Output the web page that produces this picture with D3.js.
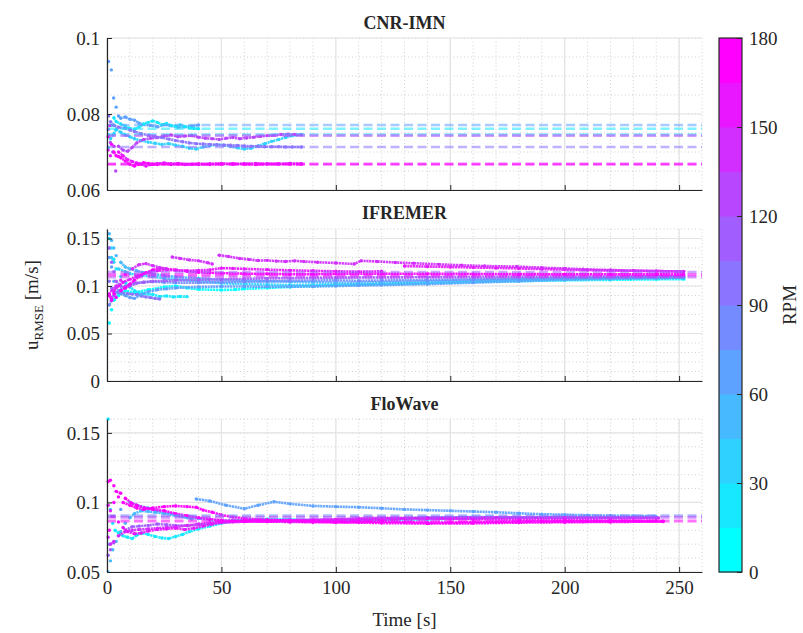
<!DOCTYPE html>
<html><head><meta charset="utf-8">
<script src="https://cdn.jsdelivr.net/npm/d3@7"></script>
<style>body{margin:0;background:#fff}svg{display:block}svg text{font-family:"Liberation Serif","DejaVu Serif",serif !important;fill:#262626}</style>
</head><body><svg id="c" width="803" height="633"></svg>
<script>
// ---------- DATA ----------
const panelTitles = ["CNR-IMN", "IFREMER", "FloWave"];
const xTicks = [0, 50, 100, 150, 200, 250];
const yTicksCNR = [0.06, 0.08, 0.1];
const yTicksIFR = [0, 0.05, 0.1, 0.15];
const yTicksFLO = [0.05, 0.1, 0.15];
const rpmTicks = [0, 30, 60, 90, 120, 150, 180];

// CNR-IMN series: rpm + [time s, uRMSE m/s]
const cnrSeries = [
 {rpm:60, pts:[[0.7,0.0938],[1.9,0.0916],[2.9,0.0842],[4,0.0818],[5,0.0795],[6,0.0789],[8,0.0792],[10,0.0786],[12,0.0784],[14,0.0776],[16,0.0772],[19,0.0770],[22,0.0766],[25,0.0772],[28,0.0769],[31,0.0765],[34,0.0766],[37,0.0768],[40,0.0771]]},
 {rpm:15, pts:[[0.8,0.0745],[2,0.0770],[3,0.0790],[4,0.0780],[6,0.0774],[8,0.0768],[10,0.0762],[12,0.0760],[14,0.0766],[16,0.0774],[18,0.0778],[20,0.0782],[22,0.0778],[24,0.0772],[26,0.0775],[28,0.0770],[30,0.0768],[32,0.0771],[34,0.0767],[36,0.0764],[38,0.0762],[40,0.0761]]},
 {rpm:30, pts:[[0.6,0.0712],[1.5,0.0735],[3,0.0748],[4,0.0760],[6,0.0752],[8,0.0745],[10,0.0740],[12,0.0735],[15,0.0730],[18,0.0726],[21,0.0723],[24,0.0720],[27,0.0722],[30,0.0718],[33,0.0715],[36,0.0710],[39,0.0708],[42,0.0713],[45,0.0717],[48,0.0719],[51,0.0718],[54,0.0715],[57,0.0711],[60,0.0708],[63,0.0710],[66,0.0716],[69,0.0722],[72,0.0728],[75,0.0733],[78,0.0738],[81,0.0743],[85,0.0746]]},
 {rpm:120, pts:[[0.6,0.0760],[1.5,0.0725],[2.5,0.0700],[3.8,0.0650],[5,0.0715],[7,0.0705],[9,0.0702],[11,0.0712],[13,0.0724],[16,0.0733],[19,0.0736],[22,0.0738],[25,0.0742],[28,0.0745],[31,0.0740],[34,0.0742],[37,0.0743],[40,0.0739],[43,0.0736],[46,0.0735],[49,0.0733],[52,0.0736],[55,0.0738],[58,0.0735],[61,0.0737],[64,0.0739],[67,0.0741],[70,0.0743],[73,0.0744],[76,0.0746],[79,0.0747],[82,0.0746],[85,0.0745]]},
 {rpm:90, pts:[[0.7,0.0795],[1.5,0.0780],[3,0.0770],[5,0.0765],[8,0.0762],[10,0.0758],[12,0.0754],[15,0.0748],[18,0.0744],[21,0.0740],[24,0.0738],[27,0.0734],[30,0.0730],[33,0.0727],[36,0.0724],[39,0.0722],[42,0.0721],[45,0.0720],[48,0.0719],[51,0.0718],[54,0.0718],[57,0.0717],[60,0.0716],[63,0.0715],[66,0.0715],[69,0.0714],[72,0.0714],[75,0.0714],[78,0.0713],[81,0.0713],[85,0.0713]]},
 {rpm:180, pts:[[0.5,0.0740],[1.2,0.0770],[2,0.0720],[3,0.0700],[4,0.0690],[5,0.0688],[6,0.0685],[8,0.0676],[10,0.0668],[12,0.0663],[14,0.0668],[16,0.0672],[18,0.0670],[20,0.0668],[22,0.0667],[25,0.0669],[28,0.0667],[31,0.0668],[34,0.0667],[37,0.0668],[40,0.0669],[45,0.0667],[50,0.0668],[55,0.0669],[60,0.0668],[65,0.0667],[70,0.0668],[75,0.0669],[80,0.0668],[85,0.0668]]},
 {rpm:150, pts:[[0.5,0.0705],[1.5,0.0690],[3,0.0715],[5,0.0700],[7,0.0690],[9,0.0680],[11,0.0675],[13,0.0671],[15,0.0668],[17,0.0663],[19,0.0667],[22,0.0670],[25,0.0671],[28,0.0669],[31,0.0670],[35,0.0668],[40,0.0667],[45,0.0669],[50,0.0670],[55,0.0668],[60,0.0669],[65,0.0670],[70,0.0669],[75,0.0668],[80,0.0670],[85,0.0669]]}
];
const cnrMeans = [{rpm:60,v:0.0771},{rpm:15,v:0.0761},{rpm:30,v:0.0746},{rpm:120,v:0.0743},{rpm:90,v:0.0713},{rpm:150,v:0.0669},{rpm:180,v:0.0667}];

const ifrSeries = [
 {rpm:0, pts:[[1,0.061],[2,0.075],[3,0.085],[5,0.090],[8,0.095],[12,0.093],[18,0.096],[25,0.099],[30,0.100],[35,0.098],[40,0.0965],[50,0.0958],[56,0.0962],[60,0.097],[70,0.098],[80,0.099],[90,0.100],[100,0.1008],[110,0.1015],[120,0.1022],[140,0.1033],[160,0.1043],[180,0.1052],[200,0.106],[220,0.1065],[240,0.107],[252,0.1072]]},
 {rpm:30, pts:[[1,0.140],[2,0.130],[3,0.125],[5,0.118],[8,0.115],[10,0.113],[15,0.111],[20,0.110],[25,0.108],[30,0.107],[40,0.105],[50,0.103],[60,0.102],[70,0.1015],[80,0.101],[100,0.1012],[120,0.1018],[140,0.103],[160,0.1045],[180,0.106],[200,0.107],[220,0.108],[240,0.1085],[252,0.1088]]},
 {rpm:15, pts:[[1,0.150],[2,0.140],[3,0.128],[4,0.118],[6,0.110],[8,0.104],[10,0.099],[12,0.095],[14,0.093],[16,0.092],[18,0.0915],[20,0.091],[23,0.089],[26,0.0895],[29,0.0885],[32,0.089],[35,0.0888]]},
 {rpm:90, pts:[[1,0.105],[2,0.098],[3,0.094],[5,0.093],[7,0.0925],[9,0.092],[11,0.0915],[13,0.091],[15,0.0895],[17,0.0885],[19,0.0878],[21,0.087],[23,0.0863]]},
 {rpm:45, pts:[[1,0.155],[2,0.148],[3,0.140],[4,0.132],[6,0.125],[8,0.120],[10,0.118],[13,0.116],[16,0.114],[20,0.1125],[25,0.111],[30,0.1095],[40,0.108],[50,0.1065],[60,0.1055],[70,0.105],[80,0.1045],[90,0.104],[100,0.1035],[110,0.1035],[120,0.104],[140,0.105],[160,0.106],[180,0.107],[200,0.108],[220,0.1085],[240,0.109],[252,0.109]]},
 {rpm:60, pts:[[1,0.130],[2,0.120],[3,0.105],[4,0.098],[6,0.092],[8,0.090],[10,0.088],[12,0.087],[15,0.091],[18,0.094],[22,0.096],[26,0.097],[30,0.098],[40,0.099],[50,0.0995],[60,0.0995],[70,0.0992],[80,0.0993],[90,0.0995],[100,0.100],[110,0.1005],[120,0.101],[140,0.102],[160,0.1035],[180,0.105],[200,0.1065],[220,0.1075],[240,0.1082],[252,0.1085]]},
 {rpm:75, pts:[[1,0.080],[2,0.085],[3,0.090],[5,0.095],[8,0.100],[12,0.103],[16,0.104],[20,0.1045],[25,0.104],[30,0.1035],[40,0.1035],[50,0.104],[60,0.1045],[70,0.105],[80,0.1055],[90,0.1058],[100,0.106],[110,0.1055],[120,0.1058],[140,0.1062],[160,0.107],[180,0.1078],[200,0.1085],[220,0.109],[240,0.1095],[252,0.110]]},
 {rpm:105, pts:[[1,0.140],[2,0.125],[3,0.115],[4,0.105],[6,0.100],[8,0.098],[10,0.100],[13,0.103],[16,0.104],[20,0.105],[25,0.1055],[30,0.106],[40,0.1065],[50,0.107],[60,0.1075],[70,0.108],[80,0.1082],[90,0.1085],[100,0.1088],[120,0.109],[140,0.1092],[160,0.1095],[180,0.1098],[200,0.110],[220,0.110],[240,0.1102],[252,0.1103]]},
 {rpm:180, pts:[[1,0.090],[2,0.085],[3,0.092],[4,0.088],[6,0.095],[8,0.098],[10,0.102],[12,0.106],[14,0.110],[17,0.114],[20,0.117],[23,0.1185],[26,0.118],[30,0.117],[35,0.1155],[40,0.1145],[45,0.114],[50,0.1135],[60,0.113],[70,0.1128],[80,0.1125],[90,0.1125],[100,0.1128],[120,0.113],[140,0.1128],[160,0.1127],[180,0.1125],[200,0.1124],[220,0.1123],[240,0.1122],[252,0.1122]]},
 {rpm:150, pts:[[1,0.092],[2,0.087],[3,0.095],[5,0.100],[7,0.104],[10,0.107],[13,0.110],[16,0.113],[19,0.115],[22,0.116],[26,0.117],[30,0.1165],[35,0.116],[40,0.1165],[45,0.117],[50,0.1188],[55,0.1185],[60,0.118],[70,0.1172],[80,0.1165],[90,0.116],[100,0.1155],[110,0.115],[120,0.1155],[130,0.121],[140,0.1205],[150,0.120],[160,0.1195],[170,0.119],[180,0.1185],[190,0.1178],[200,0.1172],[210,0.1168],[220,0.1163],[230,0.1160],[240,0.1157],[252,0.1153]]},
 {rpm:135, pts:[[2,0.095],[4,0.100],[6,0.106],[8,0.112],[11,0.118],[14,0.1225],[17,0.1235],[20,0.1215],[23,0.1195],[26,0.1180],[28.5,0.1305],[32,0.1290],[36,0.1275],[40,0.1265],[44,0.1245],[46,0.1232],[49,0.1325],[53,0.1310],[58,0.1290],[62,0.1280],[66,0.1268],[70,0.1270],[74,0.1262],[78,0.1258],[82,0.1265],[86,0.1258],[92,0.1250],[100,0.1242],[108,0.1232],[111,0.1265],[118,0.1258],[126,0.1248],[134,0.1239],[145,0.1228],[155,0.1218],[165,0.1210],[179,0.1204],[190,0.1192],[200,0.1184],[208,0.1176],[220,0.1168],[230,0.1162],[240,0.1157],[252,0.1151]]}
];
const ifrMeans = [{rpm:105,v:0.1145},{rpm:120,v:0.1095},{rpm:165,v:0.1118}];

const floSeries = [
 {rpm:15, pts:[[0.5,0.160],[1.5,0.095],[2.5,0.085],[3.5,0.080],[5,0.078],[7,0.076],[9,0.075],[11,0.074],[13,0.0765],[15,0.078],[18,0.077],[21,0.0755],[24,0.0745],[27,0.074],[30,0.0755],[33,0.077],[36,0.079],[40,0.081],[45,0.083],[50,0.085],[55,0.087],[60,0.0875],[70,0.088],[80,0.0878],[90,0.0872],[100,0.0868],[110,0.087],[120,0.0875],[130,0.0885],[140,0.0892],[160,0.0895],[180,0.0893],[200,0.0892],[220,0.0892],[240,0.0893]]},
 {rpm:45, pts:[[0.5,0.050],[1.5,0.058],[2.5,0.066],[4,0.072],[6,0.079],[8,0.085],[10,0.089],[12,0.092],[15,0.094],[18,0.0935],[21,0.093],[25,0.092],[30,0.0905],[35,0.089],[40,0.0885],[45,0.0875],[50,0.087],[60,0.0868],[70,0.0865],[80,0.0862],[90,0.0865],[100,0.0868],[120,0.0872],[140,0.0878],[160,0.0885],[180,0.089],[200,0.0893],[220,0.0895],[240,0.0897]]},
 {rpm:60, pts:[[1,0.070],[3,0.090],[6,0.095],[10,0.100],[13,0.098],[18,0.096],[22,0.094],[28,0.092],[33,0.090],[37,0.088],[39,0.1025],[45,0.101],[52,0.098],[60,0.0955],[66,0.098],[73,0.1005],[80,0.099],[90,0.0975],[100,0.097],[110,0.0966],[120,0.0958],[130,0.095],[140,0.0945],[150,0.094],[160,0.0935],[170,0.093],[180,0.0922],[190,0.0915],[200,0.0912],[210,0.0908],[220,0.0905],[230,0.0903],[239,0.0902]]},
 {rpm:105, pts:[[0.5,0.062],[1.5,0.066],[3,0.071],[5,0.076],[8,0.080],[11,0.0825],[14,0.083],[18,0.0835],[22,0.0845],[26,0.084],[30,0.0835],[35,0.0832],[40,0.084],[45,0.0848],[50,0.0855],[60,0.0865],[70,0.087],[80,0.0872],[90,0.0875],[100,0.0878],[110,0.088],[120,0.0885],[140,0.0888],[160,0.089],[180,0.0892],[200,0.0893],[220,0.0893],[240,0.0893]]},
 {rpm:135, pts:[[0.5,0.075],[1.5,0.070],[3,0.072],[5,0.076],[8,0.079],[11,0.080],[14,0.0805],[18,0.081],[22,0.0815],[26,0.082],[30,0.0825],[35,0.0835],[40,0.0845],[45,0.0855],[50,0.0862],[60,0.087],[70,0.0872],[80,0.087],[90,0.0868],[100,0.0866],[110,0.0868],[120,0.0875],[130,0.0885],[140,0.089],[150,0.0892],[160,0.0893],[170,0.0893],[180,0.0892],[190,0.0891],[200,0.089],[210,0.089],[220,0.0889],[230,0.0889],[241,0.0888]]},
 {rpm:150, pts:[[0.5,0.098],[1.5,0.094],[3,0.090],[5,0.086],[7,0.082],[9,0.079],[12,0.0775],[15,0.078],[18,0.0795],[22,0.0805],[26,0.081],[30,0.0815],[34,0.0805],[38,0.0815],[42,0.083],[46,0.0845],[50,0.0855],[60,0.0862],[70,0.0865],[80,0.087],[90,0.0875],[100,0.0878],[110,0.0885],[120,0.0888],[130,0.0887],[140,0.0885],[150,0.0882],[160,0.088],[180,0.0876],[200,0.0873],[220,0.087],[240,0.0868]]},
 {rpm:165, pts:[[1,0.080],[2,0.090],[3,0.100],[5,0.104],[7,0.100],[10,0.098],[13,0.096],[16,0.095],[20,0.096],[25,0.097],[30,0.0975],[35,0.097],[39,0.0965],[42,0.0945],[46,0.093],[50,0.091],[55,0.0895],[60,0.0885],[70,0.0875],[80,0.0868],[90,0.0862],[100,0.0858],[120,0.0852],[140,0.0848],[160,0.085],[180,0.0855],[200,0.0858],[220,0.086],[243,0.0862]]},
 {rpm:180, pts:[[0.5,0.115],[1.5,0.116],[3,0.112],[4,0.108],[6,0.1066],[8,0.103],[10.6,0.0997],[13,0.098],[16.4,0.096],[20,0.095],[25,0.094],[30,0.092],[35,0.0905],[40,0.089],[45,0.088],[50,0.087],[60,0.0865],[70,0.0862],[80,0.086],[90,0.0858],[100,0.0857],[110,0.086],[120,0.0862],[130,0.0858],[140,0.0855],[150,0.0856],[160,0.0858],[170,0.086],[180,0.0862],[190,0.0863],[200,0.0864],[210,0.0864],[220,0.0865],[230,0.0866],[243,0.0866]]}
];
const floMeans = [{rpm:75,v:0.0904},{rpm:120,v:0.0894},{rpm:180,v:0.0866}];

// ---------- DRAW ----------
const FONT = '"Liberation Serif", "DejaVu Serif", serif';
const svg = d3.select("#c");
const L = 107, R = 702;
const x = d3.scaleLinear().domain([0, 260]).range([L, R]);
const nLevels = 12;
const rpmColor = rpm => {
  const i = Math.min(nLevels - 1, Math.floor(rpm / 15));
  return d3.interpolateRgb("#00ffff", "#ff00ff")(i / (nLevels - 1));
};

const panels = [
  {title: panelTitles[0], series: cnrSeries, means: cnrMeans, dom: [0.06, 0.1], top: 38, bot: 190, ticks: yTicksCNR, minor: 0.005, fmt: d => d === 0.1 ? "0.1" : d3.format(".2f")(d), titleY: 29, xlab: false, meanW: 2.6},
  {title: panelTitles[1], series: ifrSeries, means: ifrMeans, dom: [0, 0.16], top: 229, bot: 381, ticks: yTicksIFR, minor: 0.01, fmt: d => String(d), titleY: 219, xlab: false, meanW: 3},
  {title: panelTitles[2], series: floSeries, means: floMeans, dom: [0.05, 0.16], top: 419, bot: 572, ticks: yTicksFLO, minor: 0.01, fmt: d => String(d), titleY: 410, xlab: true, meanW: 3}
];

panels.forEach((p, pi) => {
  const y = d3.scaleLinear().domain(p.dom).range([p.bot, p.top]);
  const g = svg.append("g");
  // minor grid
  const minorY = d3.range(p.dom[0], p.dom[1] + 1e-9, p.minor).map(v => +v.toFixed(4));
  g.selectAll(".mgy").data(minorY).join("line")
    .attr("x1", L).attr("x2", R).attr("y1", d => y(d)).attr("y2", d => y(d))
    .attr("stroke", "#d0d0d0").attr("stroke-width", 1).attr("stroke-dasharray", "1,2.5");
  g.selectAll(".mgx").data(d3.range(10, 261, 10)).join("line")
    .attr("x1", d => x(d)).attr("x2", d => x(d)).attr("y1", p.top).attr("y2", p.bot)
    .attr("stroke", "#d0d0d0").attr("stroke-width", 1).attr("stroke-dasharray", "1,2.5");
  // major grid
  g.selectAll(".gy").data(p.ticks).join("line")
    .attr("x1", L).attr("x2", R).attr("y1", d => y(d)).attr("y2", d => y(d))
    .attr("stroke", "#e3e3e3").attr("stroke-width", 1.2);
  g.selectAll(".gx").data(xTicks).join("line")
    .attr("x1", d => x(d)).attr("x2", d => x(d)).attr("y1", p.top).attr("y2", p.bot)
    .attr("stroke", "#e3e3e3").attr("stroke-width", 1.2);

  const clipId = "clip" + pi;
  svg.append("clipPath").attr("id", clipId).append("rect")
    .attr("x", L - 2).attr("y", p.top - 3).attr("width", R - L + 2).attr("height", p.bot - p.top + 3);
  const dg = g.append("g").attr("clip-path", `url(#${clipId})`);

  // series: dotted trace; steep jumps shown as separate dots only
  p.series.forEach(s => {
    const c = rpmColor(s.rpm);
    const segs = [];
    let cur = [s.pts[0]];
    for (let k = 1; k < s.pts.length; k++) {
      const a = s.pts[k - 1], b = s.pts[k];
      if (Math.abs(y(b[1]) - y(a[1])) > 5) { segs.push(cur); cur = [b]; }
      else cur.push(b);
    }
    segs.push(cur);
    segs.filter(sg => sg.length > 1).forEach(sg => {
      dg.append("path").datum(sg)
        .attr("d", d3.line().x(d => x(d[0])).y(d => y(d[1])))
        .attr("fill", "none").attr("stroke", c).attr("stroke-width", 2.6)
        .attr("stroke-dasharray", "2.2,0.6").attr("opacity", 0.92);
    });
    dg.selectAll(null).data(s.pts).join("circle")
      .attr("cx", d => x(d[0])).attr("cy", d => y(d[1])).attr("r", 1.7).attr("fill", c);
  });
  // mean dashed lines
  p.means.forEach(m => {
    dg.append("line").attr("x1", L).attr("x2", R).attr("y1", y(m.v)).attr("y2", y(m.v))
      .attr("stroke", rpmColor(m.rpm)).attr("stroke-width", p.meanW).attr("opacity", 0.55)
      .attr("stroke-dasharray", "9,4.5");
  });

  // axes
  const ya = d3.axisLeft(y).tickValues(p.ticks).tickFormat(p.fmt).tickSizeInner(-5).tickSizeOuter(0).tickPadding(7);
  const yg = g.append("g").attr("transform", `translate(${L},0)`).call(ya);
  const xa = d3.axisBottom(x).tickValues(xTicks).tickSizeInner(-5).tickSizeOuter(0).tickPadding(9)
    .tickFormat(p.xlab ? d3.format("d") : () => "");
  const xg = g.append("g").attr("transform", `translate(0,${p.bot})`).call(xa);
  [yg, xg].forEach(a => {
    a.attr("font-family", null).attr("font-size", null);
    a.select(".domain").attr("stroke", "#262626").attr("stroke-width", 1.2);
    a.selectAll(".tick line").attr("stroke", "#262626");
    a.selectAll("text").style("font-size", "19px").style("fill", "#262626").style("font-family", FONT);
  });
  svg.append("text").attr("x", (L + R) / 2).attr("y", p.titleY).attr("text-anchor", "middle")
    .style("font-size", "18px").style("font-weight", "bold").text(p.title);
});

// axis labels
svg.append("text").attr("x", (L + R) / 2).attr("y", 626).attr("text-anchor", "middle")
  .style("font-size", "19px").text("Time [s]");
const yl = svg.append("text").attr("transform", "translate(38,305) rotate(-90)")
  .attr("text-anchor", "middle").style("font-size", "19px");
yl.append("tspan").text("u");
yl.append("tspan").style("font-size", "13px").attr("dy", 5).text("RMSE");
yl.append("tspan").attr("dy", -5).text(" [m/s]");

// colorbar
const cbX = 719, cbW = 23, cbTop = 38, cbBot = 572;
const cy = d3.scaleLinear().domain([0, 180]).range([cbBot, cbTop]);
const levels = d3.range(nLevels).map(i => i * 15);
svg.selectAll(".cb").data(levels).join("rect")
  .attr("x", cbX).attr("width", cbW)
  .attr("y", d => cy(d + 15)).attr("height", d => cy(d) - cy(d + 15) + 0.5)
  .attr("fill", d => rpmColor(d));
svg.append("rect").attr("x", cbX).attr("y", cbTop).attr("width", cbW).attr("height", cbBot - cbTop)
  .attr("fill", "none").attr("stroke", "#262626").attr("stroke-width", 1.2);
const ca = d3.axisRight(cy).tickValues(rpmTicks).tickSizeInner(-5).tickSizeOuter(0).tickPadding(7);
const cg = svg.append("g").attr("transform", `translate(${cbX + cbW},0)`).call(ca);
cg.attr("font-family", null).attr("font-size", null);
cg.select(".domain").remove();
cg.selectAll(".tick line").attr("stroke", "#262626");
cg.selectAll("text").style("font-size", "19px").style("fill", "#262626").style("font-family", FONT);
svg.append("text").attr("transform", "translate(789,305) rotate(-90)").attr("text-anchor", "middle")
  .attr("dy", "0.35em").style("font-size", "19px").text("RPM");
</script></body></html>
